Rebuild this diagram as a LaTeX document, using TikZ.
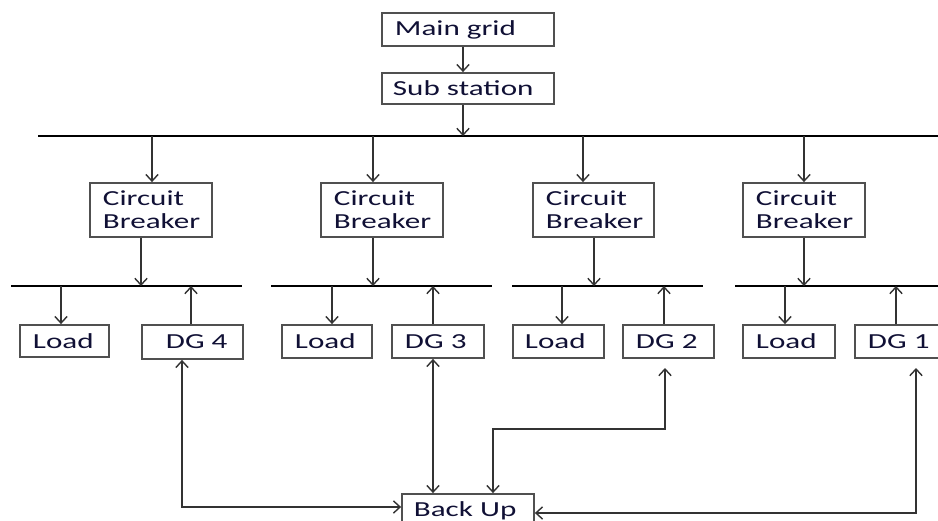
\documentclass[tikz,border=0pt]{standalone}
\usepackage{fontspec}
\setmainfont{Carlito}[FakeStretch=1.45]
\usetikzlibrary{arrows.meta}
\definecolor{txt}{HTML}{101035}
\definecolor{ln}{HTML}{333333}
\definecolor{bd}{HTML}{505050}
\tikzset{
  box/.style={draw=bd, line width=1pt, inner xsep=0pt, inner ysep=0pt, align=left,
    font=\fontsize{12.2}{13.2}\selectfont, text=txt},
  arr/.style={draw=ln, line width=0.8pt, -{Straight Barb[length=3.8pt,width=7pt]}},
  darr/.style={draw=ln, line width=0.8pt,
    {Straight Barb[length=3.8pt,width=7pt]}-{Straight Barb[length=3.8pt,width=7pt]}},
  busline/.style={line width=1.7pt, draw=black},
}
% name, x1, y1, x2, y2, text offset (px), text
\newcommand\ind{\hspace*{\bo pt}}
\newcommand\mkbox[7]{%
  \pgfmathsetmacro\bw{(#4-#2)*0.02}%
  \pgfmathsetmacro\bh{(#5-#3)*0.02}%
  \pgfmathsetmacro\bo{#6*0.5669}%
  \node[box, minimum width=\bw cm, minimum height=\bh cm, text width=\bw cm]
    (#1) at ({(#2+#4)/2},{(#3+#5)/2}) {#7};%
}
\begin{document}
\begin{tikzpicture}[x=0.02cm, y=-0.02cm]
\useasboundingbox (0,0) rectangle (938,521);
\fill[white] (0,0) rectangle (938,521);
\clip (0,0) rectangle (938,521);

% boxes
\mkbox{mg}{382}{13}{554}{46}{13}{\ind Main grid}
\mkbox{ss}{382}{73}{554}{104}{11}{\ind Sub station}
\mkbox{cb1}{90}{183}{212}{237}{13}{\ind Circuit\\\ind Breaker}
\mkbox{cb2}{321}{183}{443}{237}{13}{\ind Circuit\\\ind Breaker}
\mkbox{cb3}{533}{183}{654}{237}{13}{\ind Circuit\\\ind Breaker}
\mkbox{cb4}{743}{183}{865}{237}{13}{\ind Circuit\\\ind Breaker}
\mkbox{ld1}{20}{325}{109}{357}{13}{\ind Load}
\mkbox{dg4}{142}{325}{243}{359}{24}{\ind DG 4}
\mkbox{ld2}{282}{325}{372}{358}{13}{\ind Load}
\mkbox{dg3}{392}{325}{484}{358}{13}{\ind DG 3}
\mkbox{ld3}{513}{325}{604}{358}{12}{\ind Load}
\mkbox{dg2}{623}{325}{714}{358}{13}{\ind DG 2}
\mkbox{ld4}{743}{325}{835}{358}{13}{\ind Load}
\mkbox{dg1}{855}{325}{942}{358}{13}{\ind DG 1}
\mkbox{bu}{402}{494}{534}{527}{12}{\ind Back Up}

% bus bars
\coordinate (busL) at (38,136);
\coordinate (busR) at (938,136);
\draw[busline] (busL) -- (busR);
\coordinate (sb1L) at (11,286);  \coordinate (sb1R) at (242,286);
\coordinate (sb2L) at (271,286); \coordinate (sb2R) at (492,286);
\coordinate (sb3L) at (512,286); \coordinate (sb3R) at (703,286);
\coordinate (sb4L) at (735,286); \coordinate (sb4R) at (938,286);
\draw[busline] (sb1L) -- (sb1R);
\draw[busline] (sb2L) -- (sb2R);
\draw[busline] (sb3L) -- (sb3R);
\draw[busline] (sb4L) -- (sb4R);

% top chain
\draw[arr] (463,0 |- mg.south) -- (463,0 |- ss.north);
\draw[arr] (463,0 |- ss.south) -- (463,0 |- busL);

% main bus to circuit breakers
\draw[arr] (152,0 |- busL) -- (152,0 |- cb1.north);
\draw[arr] (373,0 |- busL) -- (373,0 |- cb2.north);
\draw[arr] (583,0 |- busL) -- (583,0 |- cb3.north);
\draw[arr] (804,0 |- busL) -- (804,0 |- cb4.north);

% circuit breakers to sub buses
\draw[arr] (141,0 |- cb1.south) -- (141,0 |- sb1L);
\draw[arr] (373,0 |- cb2.south) -- (373,0 |- sb2L);
\draw[arr] (594,0 |- cb3.south) -- (594,0 |- sb3L);
\draw[arr] (804,0 |- cb4.south) -- (804,0 |- sb4L);

% sub buses to loads, DGs to sub buses
\draw[arr] (61,0 |- sb1L) -- (61,0 |- ld1.north);
\draw[arr] (191,0 |- dg4.north) -- (191,0 |- sb1L);
\draw[arr] (332,0 |- sb2L) -- (332,0 |- ld2.north);
\draw[arr] (433,0 |- dg3.north) -- (433,0 |- sb2L);
\draw[arr] (562,0 |- sb3L) -- (562,0 |- ld3.north);
\draw[arr] (664,0 |- dg2.north) -- (664,0 |- sb3L);
\draw[arr] (785,0 |- sb4L) -- (785,0 |- ld4.north);
\draw[arr] (896,0 |- dg1.north) -- (896,0 |- sb4L);

% back up links
\coordinate (dg2in) at (665,368);
\coordinate (dg1in) at (916,368);
\draw[darr] (182,0 |- dg4.south) |- (0,507 -| bu.west);
\draw[darr] (433,0 |- dg3.south) -- (433,0 |- bu.north);
\draw[darr] (dg2in) |- (493,429) -- (493,0 |- bu.north);
\draw[darr] (dg1in) |- (0,513 -| bu.east);
\end{tikzpicture}
\end{document}
